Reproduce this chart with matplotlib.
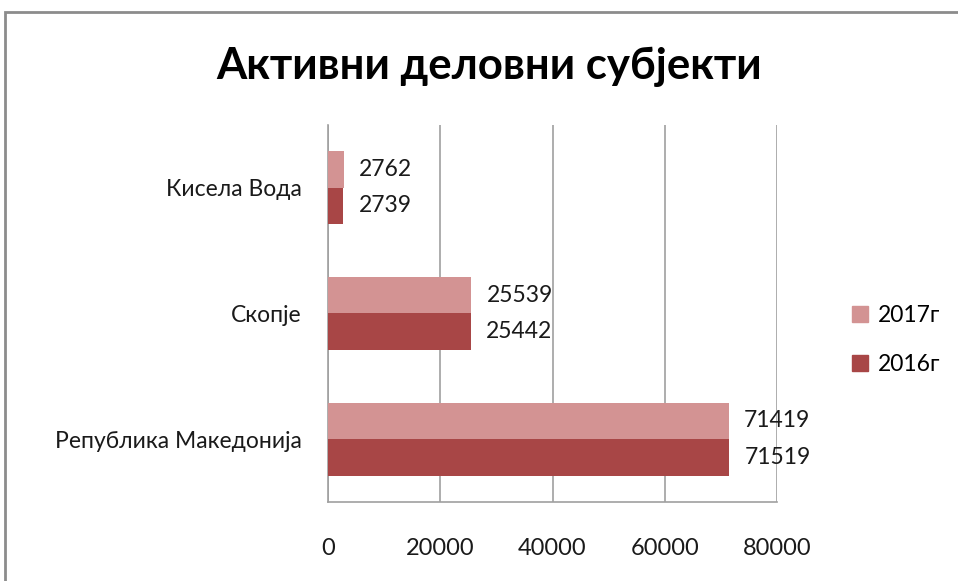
import matplotlib
matplotlib.use('Agg')
import matplotlib.pyplot as plt
from matplotlib.patches import Rectangle, Patch

plt.rcParams['font.family'] = ['Lato', 'DejaVu Sans']

categories = ['Република Македонија', 'Скопје', 'Кисела Вода']
values_2016 = [71519, 25442, 2739]
values_2017 = [71419, 25539, 2762]
series_labels = ['2017г', '2016г']
x_ticks = [0, 20000, 40000, 60000, 80000]

color_2017 = '#D39393'
color_2016 = '#A84646'
grid_color = '#A0A0A0'

fig = plt.figure(figsize=(9.58, 5.81), dpi=100)
fig.patches.append(Rectangle((0.005, -0.05), 1.1, 1.029, transform=fig.transFigure,
                             fill=False, edgecolor='#8C8C8C', linewidth=2))

ax = fig.add_axes([0.3424, 0.136, 0.4687, 0.649])
ypos = range(len(categories))
h = 0.29
ax.barh([y - h / 2 for y in ypos], values_2016, height=h, color=color_2016, zorder=3)
ax.barh([y + h / 2 for y in ypos], values_2017, height=h, color=color_2017, zorder=3)

for y, v in zip(ypos, values_2016):
    ax.annotate(str(v), (v, y - h / 2), xytext=(11, 0), textcoords='offset points',
                va='center', ha='left', fontsize=16.5, color='#1a1a1a')
for y, v in zip(ypos, values_2017):
    ax.annotate(str(v), (v, y + h / 2), xytext=(11, 0), textcoords='offset points',
                va='center', ha='left', fontsize=16.5, color='#1a1a1a')

ax.set_xlim(0, 80000)
ax.set_ylim(-0.5, 2.5)
ax.set_xticks(x_ticks)
ax.set_xticklabels([str(t) for t in x_ticks], fontsize=17)
ax.set_yticks(list(ypos))
ax.set_yticklabels(categories, fontsize=16.5)
ax.tick_params(axis='both', length=0, colors='#1a1a1a')
ax.tick_params(axis='x', pad=26)
ax.tick_params(axis='y', pad=19)
ax.grid(axis='x', color=grid_color, linewidth=1.2, zorder=0)
for s in ['top', 'right']:
    ax.spines[s].set_visible(False)
for s in ['left', 'bottom']:
    ax.spines[s].set_color(grid_color)
    ax.spines[s].set_linewidth(1.2)

fig.text(0.511, 0.885, 'Активни деловни субјекти', ha='center', va='center',
         fontsize=31.5, fontweight='bold')

handles = [Patch(color=color_2017), Patch(color=color_2016)]
fig.legend(handles, series_labels, loc='center left', bbox_to_anchor=(0.868, 0.415),
           frameon=False, fontsize=16.5, handlelength=0.7, handleheight=0.7,
           labelspacing=1.2, handletextpad=0.4)

fig.savefig('out.png', dpi=100)
